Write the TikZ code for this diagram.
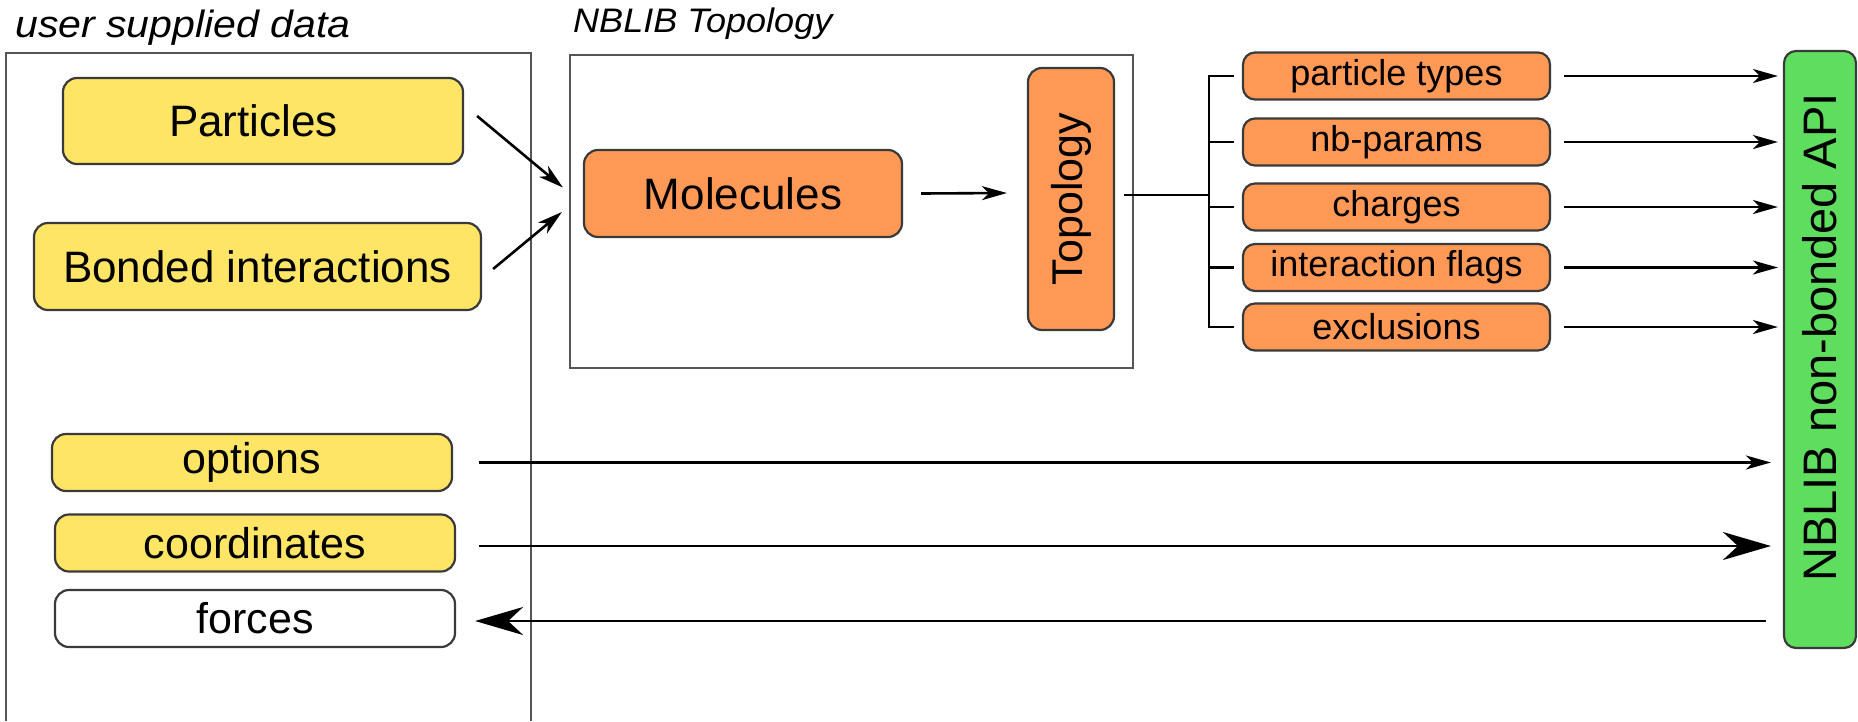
\documentclass[tikz,border=0pt]{standalone}
\usepackage{fontspec}
\setmainfont{Liberation Sans}
\usetikzlibrary{arrows.meta,calc}
\definecolor{cyel}{HTML}{FFE566}
\definecolor{corg}{HTML}{FF9955}
\definecolor{cgrn}{HTML}{5FDD5F}
\definecolor{cbrd}{HTML}{3A3A3A}
\definecolor{cframe}{HTML}{555555}
\newcommand{\fs}[1]{\fontsize{#1}{#1}\selectfont}
\begin{document}
\begin{tikzpicture}[x=1pt,y=-1pt,
  box/.style={draw=cbrd,line width=2.2pt,rounded corners=14pt,inner sep=0pt,align=center},
  bigbox/.style={box,font=\fs{44}},
  ybox/.style={bigbox,fill=cyel},
  obox/.style={box,fill=corg},
  sbox/.style={obox,rounded corners=12pt,minimum width=307pt,minimum height=47pt,font=\fs{36}},
  lbox/.style={box,minimum width=400pt,minimum height=57pt,font=\fs{43}},
  frame/.style={draw=cframe,line width=1.5pt},
  conn/.style={line width=2.6pt,black},
  arr/.style={conn,-{Stealth[length=25pt,width=14pt,inset=7pt]}},
  bigarr/.style={conn,-{Stealth[length=48pt,width=28pt,inset=15pt]}},
  title/.style={anchor=base west,inner sep=0pt}
]
\useasboundingbox (0,0) rectangle (1858,721);
% frames
\draw[frame] (6,721) -- (6,53) -- (531,53) -- (531,721);
\draw[frame] (570,55) rectangle (1133,368);
\node[title] (t1) at (15,37) {\scalebox{1.08}[1]{\fs{38}\itshape user supplied data}};
\node[title] (t2) at (573,32) {\scalebox{1.06}[1]{\fs{34}\itshape NBLIB Topology}};
% left nodes
\node[ybox,minimum width=400pt,minimum height=86pt] (part) at (263,121) {Particles\hspace*{19pt}};
\node[ybox,minimum width=447pt,minimum height=87pt] (bond) at (257.5,266.5) {Bonded interactions};
\node[obox,font=\fs{44},minimum width=318pt,minimum height=87pt] (mol) at (743,193.5) {Molecules};
\node[obox,font=\fs{43},rotate=90,minimum width=262pt,minimum height=86pt] (top) at (1071,199) {Topology};
% small boxes
\node[sbox] (pt) at (1396.5,76) {particle types};
\node[sbox] (nb) at (1396.5,142) {nb-params};
\node[sbox] (ch) at (1396.5,207) {charges};
\node[sbox] (fl) at (1396.5,267.5) {interaction flags};
\node[sbox] (ex) at (1396.5,327) {exclusions};
% API
\node[box,fill=cgrn,rounded corners=12pt,rotate=90,minimum width=597pt,minimum height=72pt,font=\fs{47}] (api) at (1820,349.5) {\hspace*{24pt}NBLIB non-bonded API};
% lower boxes
\node[lbox,fill=cyel] (opt) at (252,462.5) {options};
\node[lbox,fill=cyel] (crd) at (255,543) {coordinates};
\node[lbox,fill=white] (frc) at (255,618.5) {forces};
% connectors
\draw[arr] ($(part.east)+(13,-5)$) -- ($(mol.west)+(-20,-6)$);
\draw[arr] ($(bond.east)+(11,2.5)$) -- ($(mol.west)+(-21,18.5)$);
\draw[arr] ($(mol.east)+(18,0)$) -- ($(top.north)+(-20,-6)$);
\coordinate (br) at (1210,195);
\draw[conn] ($(top.south)+(9,-4)$) -- (br);
\draw[conn] ($(pt.west)+(-8,0)$) -| ($(ex.west)+(-33,0)$) -- ($(ex.west)+(-8,0)$);
\foreach \n in {nb,ch,fl}{\draw[conn] ($(\n.west)+(-33,0)$) -- ($(\n.west)+(-8,0)$);}
\foreach \n in {pt,nb,ch,fl,ex}{\draw[arr] ($(\n.east)+(13,0)$) -- ($(api.north |- \n.east)+(-5,0)$);}
\draw[arr] ($(opt.east)+(26,0)$) -- ($(api.north |- opt.east)+(-12,0)$);
\draw[bigarr] ($(crd.east)+(23,3)$) -- ($(api.north |- crd.east)+(-12,3)$);
\draw[bigarr] ($(api.north |- frc.east)+(-17,2.5)$) -- ($(frc.east)+(19,2.5)$);
\end{tikzpicture}
\end{document}
